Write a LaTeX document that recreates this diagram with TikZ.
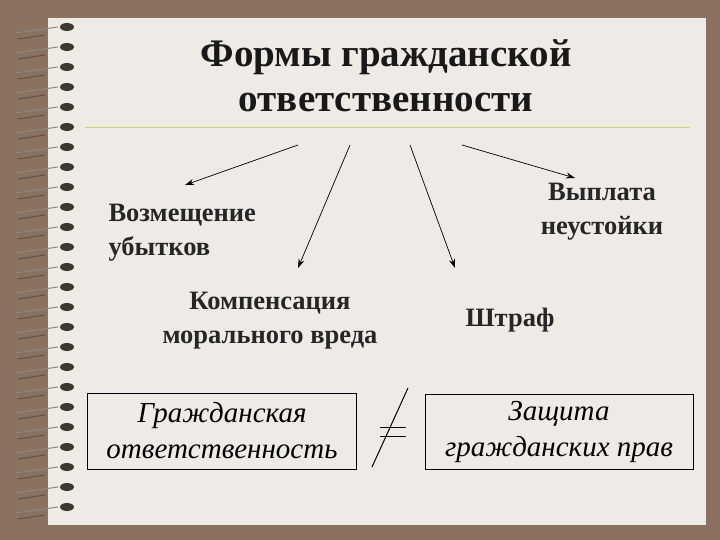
\documentclass[tikz,border=0pt]{standalone}
\usepackage{fontspec}
\setmainfont{Liberation Serif}
\usetikzlibrary{arrows.meta}
\definecolor{bg}{HTML}{8C7060}
\definecolor{paper}{HTML}{EEEAE6}
\definecolor{ringc}{HTML}{3A3A30}
\tikzset{
  lbl/.style={font=\fontsize{26.5}{34}\selectfont\bfseries, align=center, text=black!85},
  itl/.style={font=\fontsize{29}{36}\selectfont\itshape, align=center},
  arr/.style={-{Stealth[length=9pt,width=6pt]}, line width=0.7pt},
  boxs/.style={draw, line width=0.9pt, fill=paper, minimum width=269pt, minimum height=76pt, inner sep=0pt}
}
\begin{document}
\begin{tikzpicture}[x=1pt,y=-1pt]
\useasboundingbox (0,0) rectangle (720,540);
\fill[bg] (0,0) rectangle (720,540);
\fill[paper] (48,18) rectangle (706,525);
\draw[olive!40, line width=0.8pt] (85,127) -- (690,127);
\foreach \i in {0,...,24} {
  \pgfmathsetmacro{\yy}{27+20*\i}
  \draw[ringc!60, line width=1pt] (15,\yy+6) -- (58,\yy) ;
  \draw[ringc!85, line width=1pt] (18,\yy+12) -- (45,\yy+8);
  \fill[ringc] (67,\yy) ellipse (7pt and 4pt);
}
\node[font=\fontsize{39}{45}\selectfont\bfseries, align=center, text=black!90] (title) at (386,76) {Формы гражданской\\ответственности};
\node[lbl, align=left, anchor=west] (v) at (105,233) {Возмещение\\убытков};
\node[lbl] (n) at (602,212) {Выплата\\неустойки};
\node[lbl] (k) at (270,321) {Компенсация\\морального вреда};
\node[lbl] (sh) at (510,320) {Штраф};
\coordinate (a1) at (298,145); \coordinate (b1) at (185,185);
\coordinate (a2) at (350,145); \coordinate (b2) at (298,268);
\coordinate (a3) at (410,145); \coordinate (b3) at (455,268);
\coordinate (a4) at (462,145); \coordinate (b4) at (575,178);
\draw[arr] (a1) -- (b1);
\draw[arr] (a2) -- (b2);
\draw[arr] (a3) -- (b3);
\draw[arr] (a4) -- (b4);
\node[boxs, itl] (g) at (222,431) {Гражданская\\ответственность};
\node[boxs, itl, minimum width=268pt, minimum height=75pt] (z) at (559,432) {Защита\\гражданских прав};
\coordinate (s1) at (372,467); \coordinate (s2) at (408,388);
\draw[line width=1pt] (s1) -- (s2);
\draw[line width=1pt] (380,427) -- (406,427);
\draw[line width=1pt] (380,436) -- (406,436);
\end{tikzpicture}
\end{document}
